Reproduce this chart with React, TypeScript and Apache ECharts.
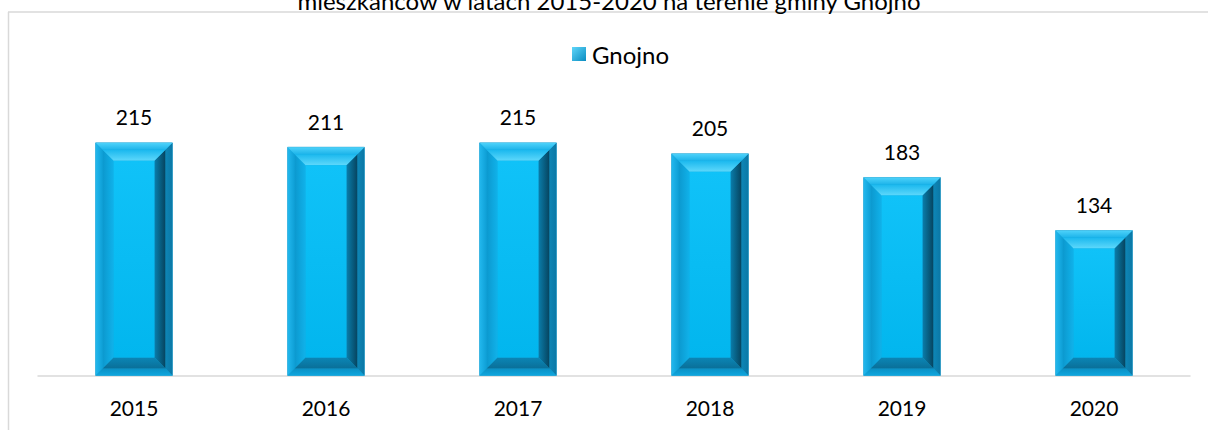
import React, { useEffect, useRef } from "react";
import * as echarts from "echarts";

const years: string[] = ["2015", "2016", "2017", "2018", "2019", "2020"];
const values: number[] = [215, 211, 215, 205, 183, 134];
const seriesName = "Gnojno";
const titleLine = "mieszkańców w latach 2015-2020 na terenie gminy Gnojno";

const FONT = "Lato, 'Liberation Sans', sans-serif";

function frame(ax0: number, ay0: number, ax1: number, ay1: number, w: number, fills: any[]) {
  const top = [[ax0, ay0], [ax1, ay0], [ax1 - w, ay0 + w], [ax0 + w, ay0 + w]];
  const bottom = [[ax0, ay1], [ax1, ay1], [ax1 - w, ay1 - w], [ax0 + w, ay1 - w]];
  const left = [[ax0, ay0], [ax0 + w, ay0 + w], [ax0 + w, ay1 - w], [ax0, ay1]];
  const right = [[ax1, ay0], [ax1 - w, ay0 + w], [ax1 - w, ay1 - w], [ax1, ay1]];
  return [left, right, bottom, top].map((pts, i) => ({
    type: "polygon",
    shape: { points: pts },
    style: { fill: fills[i], stroke: null },
  }));
}

const LG = (x0: number, y0: number, x1: number, y1: number, c0: string, c1: string) =>
  new echarts.graphic.LinearGradient(x0, y0, x1, y1, [
    { offset: 0, color: c0 },
    { offset: 1, color: c1 },
  ]);

export default function App() {
  const ref = useRef<HTMLDivElement>(null);
  useEffect(() => {
    if (!ref.current) return;
    const chart = echarts.init(ref.current, null, { renderer: "svg" });
    const data = years.map((y, i) => [i, values[i]]);
    chart.setOption({
      animation: false,
      backgroundColor: "#ffffff",
      grid: { left: 38, right: 18, top: 105, bottom: 54.5 },
      legend: {
        data: [seriesName],
        left: 567,
        top: 37,
        icon: "rect",
        itemWidth: 14,
        itemHeight: 14,
        itemGap: 4,
        textStyle: { fontSize: 24, fontFamily: FONT, color: "#000", padding: [0, 0, 0, 1] },
        itemStyle: { color: LG(0, 0, 1, 1, "#5FD6FA", "#0A8CC0") },
      },
      xAxis: {
        type: "category",
        data: years,
        axisTick: { show: false },
        axisLine: { lineStyle: { color: "#D9D9D9", width: 1.5 } },
        axisLabel: { margin: 21, fontSize: 21, fontFamily: FONT, color: "#000" },
      },
      yAxis: { type: "value", min: 0, max: 250, show: false, splitLine: { show: false } },
      graphic: [
        {
          type: "line",
          shape: { x1: 8, y1: 12, x2: 1208, y2: 12 },
          style: { stroke: "#D9D9D9", lineWidth: 1.5 },
        },
        {
          type: "line",
          shape: { x1: 8.5, y1: 12, x2: 8.5, y2: 430 },
          style: { stroke: "#D9D9D9", lineWidth: 1.5 },
        },
        {
          type: "text",
          x: 609,
          y: 0,
          style: {
            text: titleLine,
            textAlign: "center",
            textVerticalAlign: "middle",
            fontSize: 24,
            fontFamily: FONT,
            fill: "#000",
          },
        },
      ],
      series: [
        {
          type: "custom",
          name: seriesName,
          itemStyle: { color: "#14B0E8" },
          encode: { x: 0, y: 1 },
          data,
          renderItem: (params: any, api: any) => {
            const idx = api.value(0);
            const val = api.value(1);
            const topPt = api.coord([idx, val]);
            const basePt = api.coord([idx, 0]);
            const bw = api.size([1, 0])[0] * 0.4;
            const cx = topPt[0];
            const x0 = cx - bw / 2;
            const x1 = cx + bw / 2;
            const y0 = topPt[1];
            const y1 = basePt[1];
            const w1 = 7;
            const w2 = 11;
            const children: any[] = [];
            children.push({
              type: "rect",
              shape: { x: x0, y: y0, width: bw, height: y1 - y0 },
              style: { fill: "#12A8DE", stroke: "#1597C8", lineWidth: 0.6 },
            });
            children.push(
              ...frame(x0, y0, x1, y1, w1, [
                LG(0, 0, 1, 0, "#22B8EE", "#0E9FD6"),
                LG(0, 0, 1, 0, "#0E86B6", "#0B78A6"),
                LG(0, 0, 0, 1, "#0B90C4", "#0FA6DE"),
                LG(0, 0, 0, 1, "#4ED2FA", "#1DB4EA"),
              ])
            );
            const ix0 = x0 + w1, ix1 = x1 - w1, iy0 = y0 + w1, iy1 = y1 - w1;
            children.push(
              ...frame(ix0, iy0, ix1, iy1, w2, [
                LG(0, 0, 1, 0, "#0C98CE", "#10B2EA"),
                LG(0, 0, 1, 0, "#0A7EAC", "#06445F"),
                LG(0, 0, 0, 1, "#0B86B6", "#0A6F98"),
                LG(0, 0, 0, 1, "#1AB8EE", "#5ED8FB"),
              ])
            );
            children.push({
              type: "rect",
              shape: {
                x: ix0 + w2,
                y: iy0 + w2,
                width: ix1 - ix0 - 2 * w2,
                height: iy1 - iy0 - 2 * w2,
              },
              style: { fill: LG(0, 0, 0, 1, "#10C2F8", "#02B6EE") },
            });
            children.push({
              type: "text",
              style: {
                text: String(val),
                x: cx,
                y: y0 - 26,
                textAlign: "center",
                textVerticalAlign: "middle",
                fontSize: 21,
                fontFamily: FONT,
                fill: "#000",
              },
            });
            return { type: "group", children };
          },
        },
      ],
    });
    return () => chart.dispose();
  }, []);
  return (
    <div
      ref={ref}
      style={{ position: "absolute", left: 0, top: 0, width: 1208, height: 430 }}
    />
  );
}
